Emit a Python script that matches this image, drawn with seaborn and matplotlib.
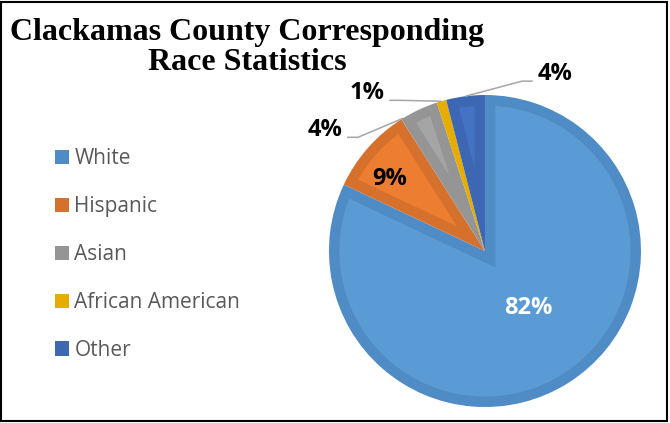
import matplotlib
matplotlib.use("Agg")
import matplotlib.pyplot as plt
import numpy as np
import seaborn as sns
from matplotlib.patches import Patch, Rectangle, Polygon

# data
races = ["White", "Hispanic", "Asian", "African American", "Other"]
shares = [82, 9, 4, 1, 4]
pct_labels = ["82%", "9%", "4%", "1%", "4%"]
fill_colors = ["#5B9BD5", "#ED7D31", "#A5A5A5", "#FFC000", "#4472C4"]
edge_colors = ["#4F8BC5", "#D6712D", "#959595", "#E6AD00", "#3D67B2"]

sns.set_theme(style="white")
plt.rcParams["font.family"] = ["Open Sans", "DejaVu Sans"]

fig = plt.figure(figsize=(6.7, 4.23), dpi=100)
ax = fig.add_axes([0.491, 0.0378, 0.4657, 0.7376])

# the darker colour is the whole slice, a lighter inset is laid on top
wedges, _ = ax.pie(shares, colors=edge_colors, startangle=90, counterclock=False,
                   wedgeprops=dict(linewidth=0))
band = 0.067
R = 1.0
for w, fc in zip(wedges, fill_colors):
    t1, t2 = np.deg2rad(w.theta1), np.deg2rad(w.theta2)
    half = (t2 - t1) / 2
    apex = band / np.sin(half)
    if apex >= R - band:
        continue  # slice too thin for an inset
    mid = t1 + half
    da = np.arcsin(band / (R - band))
    arc = np.linspace(t1 + da, t2 - da, 120)
    pts = [(apex * np.cos(mid), apex * np.sin(mid))]
    pts += [((R - band) * np.cos(a), (R - band) * np.sin(a)) for a in arc]
    ax.add_patch(Polygon(pts, closed=True, facecolor=fc, edgecolor="none"))
ax.set_xlim(-1, 1)
ax.set_ylim(-1, 1)
ax.axis("off")

# label placement: (radius, angle nudge) inside the slice, or a text spot outside
inside_pos = {0: (0.46, 4.7), 1: (0.765, 4.2)}
outside_xy = {2: (-1.026, 0.775), 3: (-0.756, 1.012), 4: (0.449, 1.135)}
anchor_frac = {2: 0.95, 3: 0.5, 4: 0.5}
lab_font = dict(fontsize=17, fontweight="bold", ha="center", va="center")

outside_texts = {}
for i, w in enumerate(wedges):
    if i in inside_pos:
        r, nudge = inside_pos[i]
        mid = np.deg2rad((w.theta1 + w.theta2) / 2 + nudge)
        col = "white" if i == 0 else "black"
        ax.text(r * np.cos(mid), r * np.sin(mid), pct_labels[i], color=col, **lab_font)
    else:
        tx, ty = outside_xy[i]
        outside_texts[i] = ax.text(tx, ty, pct_labels[i], color="black", **lab_font)

fig.canvas.draw()
inv = ax.transData.inverted()
for i, t in outside_texts.items():
    bb = t.get_window_extent().transformed(inv)
    w = wedges[i]
    ang = np.deg2rad(w.theta1 + anchor_frac[i] * (w.theta2 - w.theta1))
    ex, ey = np.cos(ang), np.sin(ang)
    sgn = 1 if ex > (bb.x0 + bb.x1) / 2 else -1
    sx = bb.x1 + 0.03 if sgn > 0 else bb.x0 - 0.03
    sy = bb.y0 + 0.2 * (bb.y1 - bb.y0)
    ax.plot([sx, sx + sgn * 0.07, ex], [sy, sy, ey], color="#A6A6A6", lw=1.1,
            clip_on=False, solid_capstyle="butt")

# legend
handles = [Patch(facecolor=c, edgecolor="none") for c in edge_colors]
fig.legend(handles, races, loc="center left", bbox_to_anchor=(0.082, 0.398),
           frameon=False, handlelength=0.68, handleheight=0.68, handletextpad=0.25,
           labelspacing=1.29, borderaxespad=0, borderpad=0, fontsize=15,
           labelcolor="#595959")

# title
title_font = dict(family="Liberation Serif", fontweight="bold", fontsize=23,
                  ha="center", va="baseline", color="black")
fig.text(0.369, 0.906, "Clackamas County Corresponding", **title_font)
fig.text(0.369, 0.8335, "Race Statistics", **title_font)

fig.add_artist(Rectangle((0.002, 0.004), 0.994, 0.992, transform=fig.transFigure,
                         fill=False, lw=1.5, ec="black"))

fig.savefig("out.png", dpi=100)
